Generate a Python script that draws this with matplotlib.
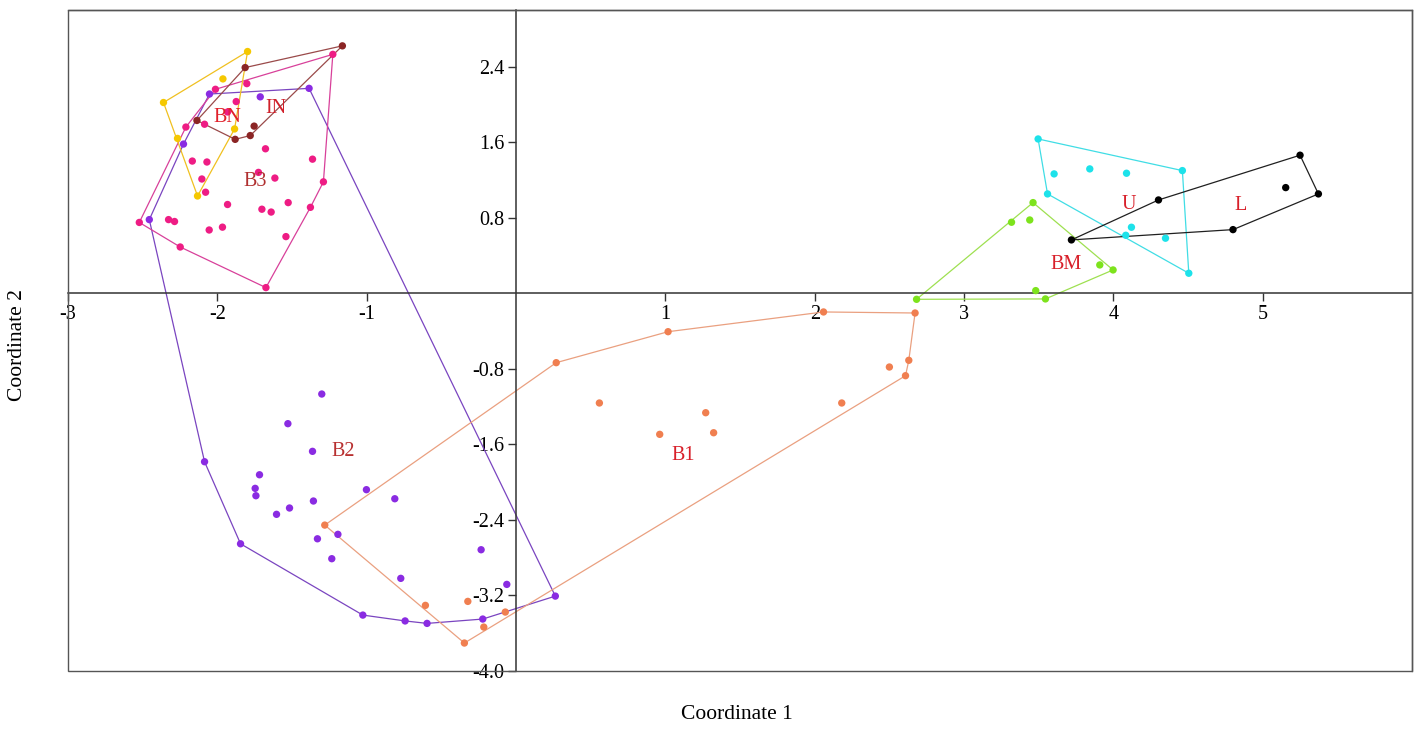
import matplotlib.pyplot as plt
from matplotlib.patches import Rectangle
import numpy as np

plt.rcParams['font.family'] = ['Liberation Serif', 'DejaVu Serif']

# group -> (x values, y values)
b3_x = [-1.227, -2.013, -1.803, -1.874, -1.932, -2.086, -2.211, -1.678, -1.363, -2.168,
        -2.070, -2.104, -1.725, -1.615, -1.290, -2.079, -1.526, -1.932, -1.377, -1.702,
        -1.640, -2.523, -2.327, -2.287, -2.055, -1.966, -1.541, -2.249, -1.675]
b3_y = [2.53, 2.16, 2.22, 2.03, 1.92, 1.79, 1.76, 1.53, 1.42, 1.40,
        1.39, 1.21, 1.28, 1.22, 1.18, 1.07, 0.96, 0.94, 0.91, 0.89,
        0.86, 0.75, 0.78, 0.76, 0.67, 0.70, 0.60, 0.49, 0.06]

bn_x = [-1.798, -2.361, -2.267, -2.133, -1.963, -1.885]
bn_y = [2.56, 2.02, 1.64, 1.03, 2.27, 1.74]

in_x = [-1.163, -1.814, -2.137, -1.881, -1.780, -1.754]
in_y = [2.62, 2.39, 1.83, 1.63, 1.67, 1.77]

b2_x = [-2.053, -1.713, -1.386, -2.227, -2.456, -1.301, -1.528, -1.363, -2.086, -1.718,
        -1.747, -1.742, -1.002, -0.812, -1.357, -1.517, -1.604, -1.193, -1.330, -1.845,
        -1.234, -0.234, -0.772, -0.062, 0.263, -1.026, -0.743, -0.596, -0.223]
b2_y = [2.11, 2.08, 2.17, 1.58, 0.78, -1.067, -1.381, -1.674, -1.784, -1.922,
        -2.066, -2.144, -2.080, -2.176, -2.200, -2.274, -2.341, -2.553, -2.600, -2.653,
        -2.811, -2.716, -3.019, -3.083, -3.207, -3.408, -3.47, -3.496, -3.450]

b1_x = [-1.281, -0.607, -0.323, -0.072, -0.216, -0.346, 0.269, 1.018, 2.059, 2.672,
        2.630, 2.500, 2.608, 0.558, 2.181, 1.270, 0.962, 1.323]
b1_y = [-2.455, -3.305, -3.263, -3.376, -3.535, -3.704, -0.735, -0.407, -0.198, -0.209,
        -0.710, -0.781, -0.873, -1.162, -1.162, -1.265, -1.494, -1.477]

bm_x = [2.682, 3.480, 3.545, 3.462, 3.318, 3.440, 3.909, 3.998]
bm_y = [-0.064, 0.028, -0.060, 0.960, 0.752, 0.776, 0.300, 0.247]

u_x = [3.496, 3.603, 3.842, 4.088, 4.462, 3.559, 4.121, 4.083, 4.349, 4.505]
u_y = [1.634, 1.264, 1.317, 1.271, 1.299, 1.052, 0.699, 0.614, 0.583, 0.212]

l_x = [5.250, 5.373, 5.154, 4.302, 4.801, 3.719]
l_y = [1.462, 1.052, 1.119, 0.988, 0.674, 0.565]

groups = [
    ("B2", b2_x, b2_y, "#8a2be2", "#7a45c0"),
    ("B3", b3_x, b3_y, "#ee1c84", "#d8409a"),
    ("BN", bn_x, bn_y, "#f5c800", "#f0c020"),
    ("IN", in_x, in_y, "#8b2525", "#9a4a4a"),
    ("B1", b1_x, b1_y, "#f07f50", "#eaa080"),
    ("BM", bm_x, bm_y, "#7de31c", "#9ee050"),
    ("U", u_x, u_y, "#1de2ea", "#40dde5"),
    ("L", l_x, l_y, "#000000", "#202020"),
]

labels = ["BN", "IN", "B3", "B2", "B1", "BM", "U", "L"]
label_x = [-1.93, -1.61, -1.75, -1.16, 1.12, 3.68, 4.10, 4.85]
label_y = [1.86, 1.96, 1.18, -1.68, -1.72, 0.30, 0.94, 0.93]
label_c = ["#e0202a", "#d0202a", "#b03030", "#b83030", "#d8202a", "#d8202a", "#d8202a", "#d8202a"]


def hull(px, py):
    pts = sorted(set(zip(px, py)))

    def cross(o, a, b):
        return (a[0] - o[0]) * (b[1] - o[1]) - (a[1] - o[1]) * (b[0] - o[0])

    lower, upper = [], []
    for p in pts:
        while len(lower) >= 2 and cross(lower[-2], lower[-1], p) <= 0:
            lower.pop()
        lower.append(p)
    for p in reversed(pts):
        while len(upper) >= 2 and cross(upper[-2], upper[-1], p) <= 0:
            upper.pop()
        upper.append(p)
    h = lower[:-1] + upper[:-1]
    h.append(h[0])
    return np.array(h)


fig = plt.figure(figsize=(14.18, 7.33), dpi=100)
ax = fig.add_axes([0.048, 0.0846, 0.9478, 0.9018])

for name, gx, gy, col, lcol in groups:
    h = hull(gx, gy)
    ax.plot(h[:, 0], h[:, 1], color=lcol, lw=0.9, zorder=2)
for name, gx, gy, col, lcol in groups:
    ax.scatter(gx, gy, s=28, color=col, edgecolors='none', zorder=3)

for t, x, y, c in zip(labels, label_x, label_y, label_c):
    ax.text(x, y, t, color=c, fontsize=14.5, ha='center', va='center', zorder=4)

ax.set_xlim(-3, 6)
ax.set_ylim(-4, 3)

ax.spines['left'].set_position(('data', 0))
ax.spines['bottom'].set_position(('data', 0))
for s in ['left', 'bottom']:
    ax.spines[s].set_color('#333333')
    ax.spines[s].set_linewidth(1.1)
for s in ['top', 'right']:
    ax.spines[s].set_color('#555555')
    ax.spines[s].set_linewidth(1.0)
ax.add_patch(Rectangle((0, 0), 1, 1, transform=ax.transAxes, fill=False,
                       edgecolor='#555555', lw=1.0, zorder=5, clip_on=False))

xt = [-3, -2, -1, 1, 2, 3, 4, 5]
yt = [2.4, 1.6, 0.8, -0.8, -1.6, -2.4, -3.2, -4.0]
ax.set_xticks(xt)
ax.set_xticklabels([str(v) for v in xt])
ax.set_yticks(yt)
ax.set_yticklabels([f"{v:.1f}" for v in yt])
ax.tick_params(axis='both', labelsize=14.5, length=5.5, width=1, color='#333333', pad=3)

fig.text(0.520, 0.025, "Coordinate 1", ha='center', va='center', fontsize=15.5)
fig.text(0.012, 0.529, "Coordinate 2", ha='center', va='center', rotation=90, fontsize=15.5)

fig.savefig("out.png", dpi=100)
